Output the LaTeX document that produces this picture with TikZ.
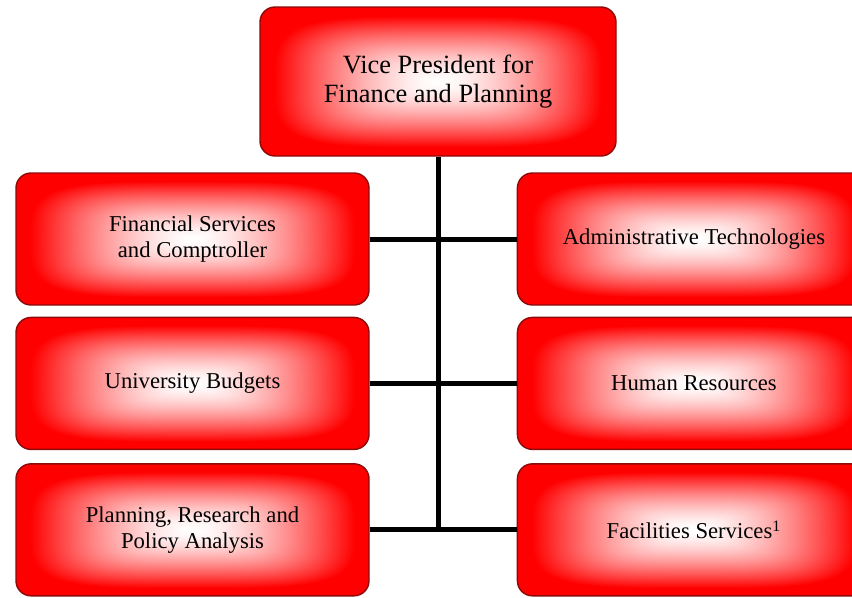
\documentclass[tikz,border=0pt]{standalone}
\usepackage{fontspec}
\setmainfont{Liberation Serif}
\usetikzlibrary{positioning}
\definecolor{rimred}{RGB}{140,10,10}
\pgfdeclarefunctionalshading{boxglow}{\pgfpointorigin}{\pgfpoint{100bp}{100bp}}{}{
  50 sub 22 div dup mul dup mul exch 50 sub 23 div dup mul dup mul
  add sqrt sqrt
  dup 1 gt {pop 1} if
  dup sqrt mul
  1 exch sub dup 1 3 1 roll
}
\begin{document}
\begin{tikzpicture}[unit/.style={draw=rimred, line width=0.8pt, rounded corners=0.3cm, shade, shading=boxglow,
    minimum width=7.06cm, minimum height=2.64cm, align=center, font=\fontsize{12.9}{14.8}\selectfont},
  head/.style={unit, minimum width=7.12cm, minimum height=2.98cm, font=\fontsize{15}{17}\selectfont},
  link/.style={line width=0.1cm}]
\useasboundingbox (0,0) rectangle (17.04,-11.94);
\clip (0,0) rectangle (17.04,-11.94);
\node (vp) [head] at (8.76,-1.63) {Vice President for\\Finance and Planning};
\node (fin) [unit] at (3.85,-4.78) {Financial Services\\and Comptroller};
\node (bud) [unit, below=0.22cm of fin] {University Budgets};
\node (plan) [unit, below=0.26cm of bud] {Planning, Research and\\Policy Analysis};
\node (adm) [unit, right=2.94cm of fin] {Administrative Technologies};
\node (hr) [unit, right=2.94cm of bud] {Human Resources};
\node (fac) [unit, right=2.94cm of plan] {Facilities Services\textsuperscript{1}};
\draw[link] (vp.south) -- (vp.south |- plan.east);
\draw[link] (fin.east) -- (fin.east -| vp.south);
\draw[link] (adm.west) -- (adm.west -| vp.south);
\draw[link] (bud.east) -- (bud.east -| vp.south);
\draw[link] (hr.west) -- (hr.west -| vp.south);
\draw[link] (plan.east) -- (plan.east -| vp.south);
\draw[link] (fac.west) -- (fac.west -| vp.south);
\end{tikzpicture}
\end{document}
